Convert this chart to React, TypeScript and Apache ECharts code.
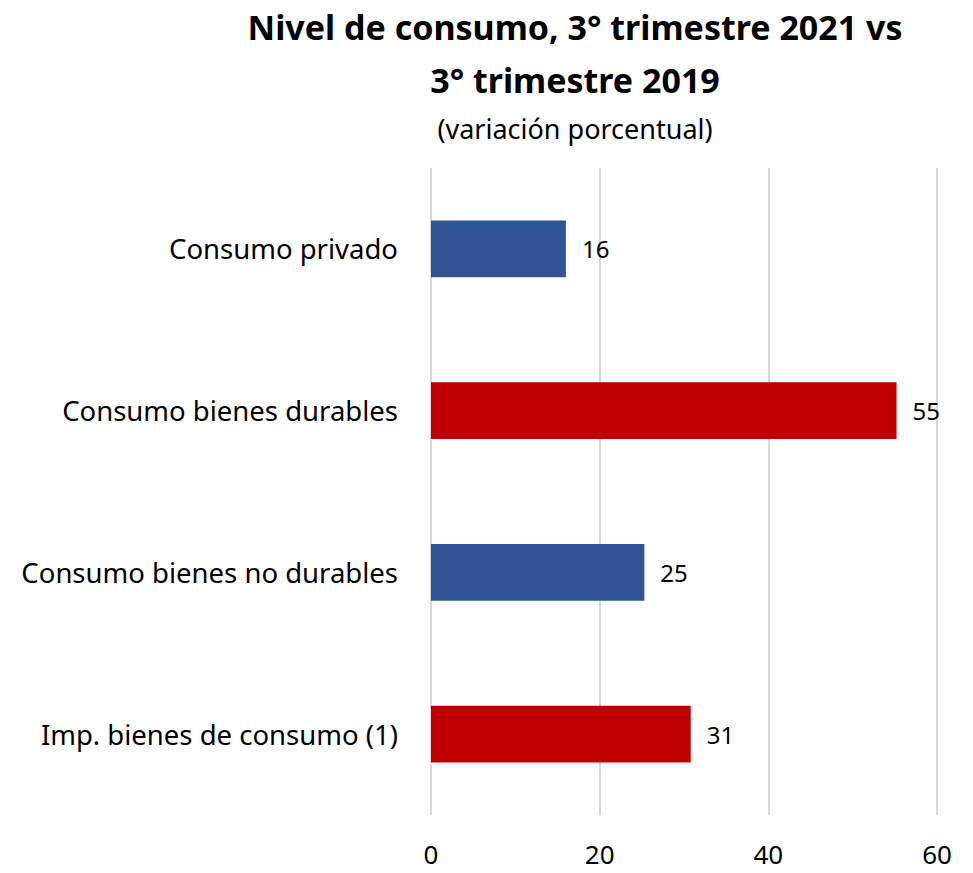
import React, { useEffect, useRef } from "react";
import * as echarts from "echarts";

const categories = [
  "Consumo privado",
  "Consumo bienes durables",
  "Consumo bienes no durables",
  "Imp. bienes de consumo (1)",
];
const values = [16.0, 55.2, 25.3, 30.8];
const barColors = ["#2F5597", "#C00000", "#2F5597", "#C00000"];
const xTicks = { min: 0, max: 60, interval: 20 };
const titleText = "Nivel de consumo, 3° trimestre 2021 vs\n3° trimestre 2019";
const subtitleText = "(variación porcentual)";

const FONT = "'Noto Sans', sans-serif";

export default function App() {
  const ref = useRef<HTMLDivElement>(null);
  useEffect(() => {
    if (!ref.current) return;
    const chart = echarts.init(ref.current, undefined, { renderer: "svg" });
    chart.setOption({
      animation: false,
      backgroundColor: "#ffffff",
      title: {
        text: titleText,
        subtext: subtitleText,
        left: 575,
        textAlign: "center",
        top: 0,
        padding: 0,
        itemGap: 7,
        textStyle: {
          fontFamily: FONT,
          fontSize: 34,
          fontWeight: "bold",
          color: "#000",
          lineHeight: 53,
        },
        subtextStyle: {
          fontFamily: FONT,
          fontSize: 27,
          lineHeight: 30,
          color: "#000",
        },
      },
      grid: { left: 431, right: 36, top: 168, bottom: 58, containLabel: false },
      xAxis: {
        type: "value",
        min: xTicks.min,
        max: xTicks.max,
        interval: xTicks.interval,
        position: "bottom",
        axisLine: { show: false },
        axisTick: { show: false },
        splitLine: { show: true, lineStyle: { color: "#d9d9d9", width: 2 } },
        axisLabel: {
          fontFamily: FONT,
          fontSize: 26,
          lineHeight: 24,
          color: "#000",
          margin: 27,
        },
      },
      yAxis: {
        type: "category",
        data: categories,
        inverse: true,
        axisLine: { show: false },
        axisTick: { show: false },
        axisLabel: {
          fontFamily: FONT,
          fontSize: 27.5,
          color: "#000",
          margin: 33,
        },
      },
      series: [
        {
          type: "bar",
          data: values.map((v, i) => ({ value: v, itemStyle: { color: barColors[i] } })),
          barWidth: "35%",
          label: {
            show: true,
            position: "right",
            distance: 16,
            fontFamily: FONT,
            fontSize: 24,
            color: "#000",
            formatter: (p: any) => String(Math.round(p.value)),
          },
        },
      ],
    });
    return () => chart.dispose();
  }, []);
  return (
    <div
      ref={ref}
      style={{ position: "absolute", left: 0, top: 0, width: 973, height: 873 }}
    />
  );
}
